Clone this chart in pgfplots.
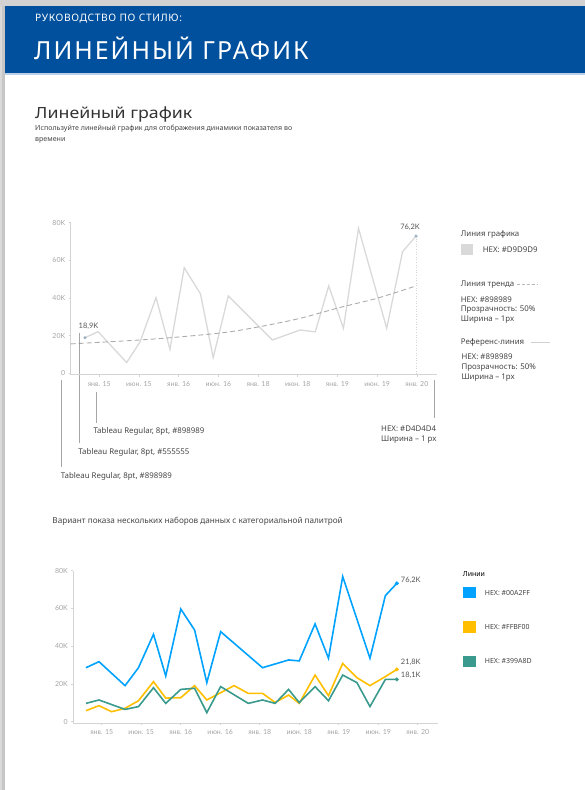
\documentclass[border=0pt]{standalone}
\usepackage{fontspec}
\setmainfont{Noto Sans}
\newfontfamily\lato{Lato}
\newfontfamily\hdrA{Noto Sans}[LetterSpace=6]
\newfontfamily\hdrB{Noto Sans}[LetterSpace=8]
\usepackage{graphicx}
\usepackage{pgfplots}
\pgfplotsset{compat=1.18}
\definecolor{hdr}{HTML}{00509D}
\definecolor{hdrline}{HTML}{B8D0EA}
\definecolor{axisgray}{HTML}{D4D4D4}
\definecolor{ticklbl}{HTML}{A4A4A4}
\definecolor{linegray}{HTML}{D9D9D9}
\definecolor{trend}{HTML}{898989}
\definecolor{dark}{HTML}{555555}
\definecolor{txt}{HTML}{444444}
\definecolor{cblue}{HTML}{00A2FF}
\definecolor{cyellow}{HTML}{FFBF00}
\definecolor{cgreen}{HTML}{399A8D}
\definecolor{dotc}{HTML}{9DB3C2}
\pgfplotsset{pagechart/.style={
  scale only axis,
  axis x line*=bottom, axis y line*=left,
  axis line style={-, color=axisgray, line width=0.8bp},
  xtick={0,...,8},
  xticklabels={янв. 15, июн. 15, янв. 16, июн. 16, янв. 18, июн. 18, янв. 19, июн. 19, янв. 20},
  ytick={0,20,40,60,80}, yticklabels={0,20K,40K,60K,80K},
  tick align=outside, major tick length=2bp,
  tick style={color=axisgray, line width=0.6bp},
  ticklabel style={font=\lato\fontsize{7}{8}\selectfont, text=ticklbl},
  xticklabel style={yshift=-1bp},
  clip=false,
}}
\newcommand{\sm}{\fontsize{7}{9}\selectfont}
\newcommand{\lgd}{\fontsize{7.9}{9}\selectfont}
\begin{document}
\begin{tikzpicture}[x=1bp,y=1bp]
\useasboundingbox (0,0) rectangle (585,790);
% shadow frame
\fill[gray!45] (0,0) rectangle (5,790);
\fill[gray!30] (0,0) rectangle (2,790);
\fill[gray!35] (0,784) rectangle (585,790);
\begin{scope}[shift={(0,790)},y=-1bp]
  \fill[hdr] (5,6) rectangle (585,73.5);
  \fill[hdrline] (5,73.5) rectangle (585,75);
  \node[anchor=west,inner sep=0,text=white,font=\hdrA\fontsize{10.3}{12}\selectfont] at (35,18.7) {РУКОВОДСТВО ПО СТИЛЮ:};
  \node[anchor=west,inner sep=0,text=white,font=\hdrB\fontsize{25}{30}\selectfont] at (34,48) {ЛИНЕЙНЫЙ ГРАФИК};
  \node[anchor=west,inner sep=0,text=black!80] at (35,114) {\scalebox{1.15}[1]{\fontsize{15.5}{18}\selectfont Линейный график}};
  \node[anchor=west,inner sep=0,text=txt,font=\fontsize{7.1}{9}\selectfont] at (35,129) {Используйте линейный график для отображения динамики показателя во};
  \node[anchor=west,inner sep=0,text=txt,font=\fontsize{7.1}{9}\selectfont] at (35,140) {времени};
  % legend 1
  \node[anchor=west,inner sep=0,text=txt,font=\lgd] at (460.7,234) {Линия графика};
  \fill[linegray] (460.7,244) rectangle (473.3,255);
  \node[anchor=west,inner sep=0,text=txt,font=\lgd] at (482.7,249.5) {HEX: \#D9D9D9};
  \node[anchor=west,inner sep=0,text=txt,font=\lgd] at (460.7,284.3) {Линия тренда};
  \draw[trend!60,line width=0.6bp,dash pattern=on 3bp off 2bp] (516.7,284.3) -- (538.3,284.3);
  \node[anchor=west,inner sep=0,text=txt,font=\lgd] at (460.7,299.3) {HEX: \#898989};
  \node[anchor=west,inner sep=0,text=txt,font=\lgd] at (460.7,309.7) {Прозрачность: 50\%};
  \node[anchor=west,inner sep=0,text=txt,font=\lgd] at (460.7,320) {Ширина – 1px};
  \node[anchor=west,inner sep=0,text=txt,font=\lgd] at (460.7,342.7) {Референс-линия};
  \draw[trend!40,line width=0.5bp] (530.7,342.7) -- (550,342.7);
  \node[anchor=west,inner sep=0,text=txt,font=\lgd] at (461.3,357) {HEX: \#898989};
  \node[anchor=west,inner sep=0,text=txt,font=\lgd] at (461.3,367.3) {Прозрачность: 50\%};
  \node[anchor=west,inner sep=0,text=txt,font=\lgd] at (461.3,377.7) {Ширина – 1px};
  % annotations chart 1
  \draw[gray!70,line width=0.7bp] (61.7,380) -- (61.7,466.7);
  \draw[gray!70,line width=0.7bp] (79.3,333) -- (79.3,443);
  \draw[gray!70,line width=0.7bp] (96.7,391.7) -- (96.7,423);
  \draw[gray!70,line width=0.7bp] (434.3,380) -- (434.3,418);
  \node[anchor=west,inner sep=0,text=txt,font=\lgd] at (93.3,431.7) {Tableau Regular, 8pt, \#898989};
  \node[anchor=west,inner sep=0,text=txt,font=\lgd] at (78.3,452.7) {Tableau Regular, 8pt, \#555555};
  \node[anchor=west,inner sep=0,text=txt,font=\lgd] at (60.7,476.7) {Tableau Regular, 8pt, \#898989};
  \node[anchor=west,inner sep=0,text=txt,font=\lgd] at (381,428.3) {HEX: \#D4D4D4};
  \node[anchor=west,inner sep=0,text=txt,font=\lgd] at (381,440) {Ширина – 1 px};
  % section 2
  \node[anchor=west,inner sep=0,text=txt,font=\fontsize{8.2}{9}\selectfont] at (52.3,521) {Вариант показа нескольких наборов данных с категориальной палитрой};
  \node[anchor=west,inner sep=0,text=black,font=\sm\bfseries] at (462.7,574) {Линии};
  \fill[cblue] (462.7,586.7) rectangle (475.7,598.3);
  \node[anchor=west,inner sep=0,text=txt,font=\sm] at (484.7,592.7) {HEX: \#00A2FF};
  \fill[cyellow] (462.7,621) rectangle (475.7,632.7);
  \node[anchor=west,inner sep=0,text=txt,font=\sm] at (484.7,627) {HEX: \#FFBF00};
  \fill[cgreen] (462.7,655.7) rectangle (475.7,667.3);
  \node[anchor=west,inner sep=0,text=txt,font=\sm] at (484.7,661) {HEX: \#399A8D};
\end{scope}
% chart 1
\begin{axis}[pagechart, anchor=south west, at={(70.7bp,415.3bp)},
  width=366bp, height=152bp, xmin=-0.72, xmax=8.5, ymin=-0.75, ymax=80]
\addplot[linegray, line width=1.3bp] coordinates {
(-0.36,18.9) (-0.03,22.1) (0.69,5.7) (1.03,16.8) (1.43,40.2) (1.78,12.7)
(2.14,56.1) (2.55,42.1) (2.87,8.3) (3.25,41.1) (4.36,17.7) (5.06,23.0)
(5.44,22.0) (5.78,46.4) (6.15,23.9) (6.53,77.0) (7.24,23.9) (7.64,64.6) (7.98,72.9)};
\addplot[trend, opacity=0.7, line width=0.9bp, dash pattern=on 5bp off 3bp, smooth] coordinates {
(-0.72,15.6) (1.03,17.7) (2.12,19.5) (3.21,21.8) (4.13,25.1) (5.06,29.2) (6.07,35.0) (6.99,39.8) (7.98,46.4)};
\addplot[axisgray, line width=0.6bp, dotted] coordinates {(7.98,72.9) (7.98,-0.75)};
\addplot[only marks, mark=*, mark size=1.4bp, dotc] coordinates {(-0.36,18.9) (7.98,72.9)};
\node[text=dark, font=\lato\fontsize{7.5}{9}\selectfont, inner sep=0] at (axis cs:-0.27,24.8) {18,9K};
\node[text=dark, font=\lato\fontsize{7.5}{9}\selectfont, inner sep=0] at (axis cs:7.83,77.8) {76,2K};
\end{axis}
% chart 2
\begin{axis}[pagechart, anchor=south west, at={(73.3bp,66.7bp)},
  width=365bp, height=152.6bp, xmin=-0.72, xmax=8.52, ymin=-0.85, ymax=80]
\addplot[cblue, line width=1.6bp] coordinates {
(-0.40,28.6) (-0.07,31.8) (0.59,19.1) (0.93,28.6) (1.31,46.3) (1.62,24.2) (2.0,59.7)
(2.35,48.6) (2.66,20.7) (3.01,47.7) (4.07,28.6) (4.73,32.7) (5.0,32.2) (5.40,51.8)
(5.74,33.6) (6.10,76.9) (6.79,33.6) (7.18,66.8) (7.47,73.3)};
\addplot[cyellow, line width=1.6bp] coordinates {
(-0.40,5.8) (-0.07,8.5) (0.25,5.3) (0.59,7.1) (0.93,11.1) (1.31,21.2) (1.62,12.5)
(2.0,12.7) (2.35,19.1) (2.66,11.5) (3.35,19.1) (3.71,15.0) (4.07,15.0) (4.39,10.2)
(4.73,14.1) (5.0,9.7) (5.40,24.7) (5.74,13.8) (6.10,30.9) (6.46,23.3) (6.79,19.1)
(7.18,23.9) (7.47,27.7)};
\addplot[cgreen, line width=1.6bp] coordinates {
(-0.40,9.7) (-0.07,11.5) (0.59,6.5) (0.93,8.0) (1.31,18.0) (1.62,9.7) (2.0,17.1)
(2.35,17.7) (2.66,4.8) (3.01,18.6) (3.71,9.7) (4.07,11.5) (4.39,9.7) (4.73,17.1)
(5.0,10.1) (5.40,18.6) (5.74,11.1) (6.10,24.7) (6.46,20.7) (6.79,8.0) (7.18,22.4) (7.47,22.4)};
\addplot[only marks, mark=*, mark size=1.8bp, cblue] coordinates {(7.47,73.3)};
\addplot[only marks, mark=*, mark size=1.8bp, cyellow] coordinates {(7.47,27.7)};
\addplot[only marks, mark=*, mark size=1.8bp, cgreen] coordinates {(7.47,22.4)};
\node[anchor=west, text=dark, font=\lato\fontsize{7.5}{9}\selectfont, inner sep=0] at (axis cs:7.57,75.0) {76,2K};
\node[anchor=west, text=dark, font=\lato\fontsize{7.5}{9}\selectfont, inner sep=0] at (axis cs:7.57,31.7) {21,8K};
\node[anchor=west, text=dark, font=\lato\fontsize{7.5}{9}\selectfont, inner sep=0] at (axis cs:7.57,24.7) {18,1K};
\end{axis}
\end{tikzpicture}
\end{document}
